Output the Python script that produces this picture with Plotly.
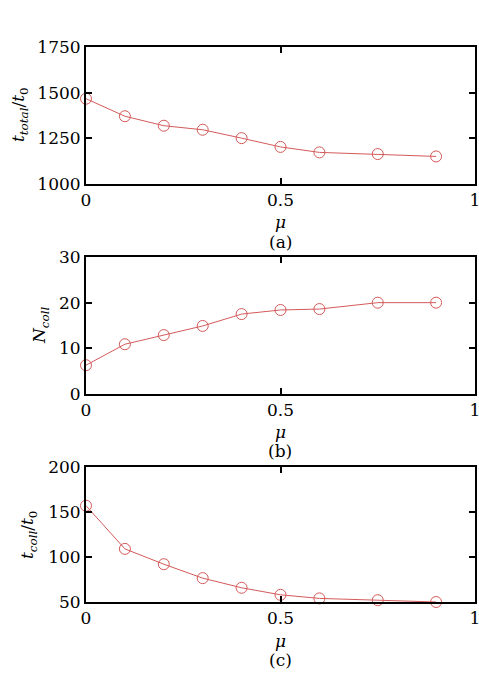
import plotly.graph_objects as go

# data
mu = [0, 0.1, 0.2, 0.3, 0.4, 0.5, 0.6, 0.75, 0.9]
t_total = [1467, 1371, 1319, 1297, 1251, 1203, 1173, 1164, 1151]
n_coll = [6.3, 10.9, 12.9, 14.9, 17.5, 18.4, 18.6, 20.0, 20.0]
t_coll = [157, 109, 92, 76.5, 65.8, 58, 54, 52, 50]

x_ticks = [0, 0.5, 1]
x_labels = ["0", "0.5", "1"]
ticks_a = [1000, 1250, 1500, 1750]
ticks_b = [0, 10, 20, 30]
ticks_c = [50, 100, 150, 200]

W, H = 479, 682
RED = "#d45a5a"
FONT = "DejaVu Serif"


def py(p):
    # window pixel row -> paper y
    return 1 - p / H


def px(p):
    return p / W


panels = [
    # y data, ticks, y range, (top, bottom) pixels, ylabel, ylabel pos, label
    (t_total, ticks_a, [1000, 1750], (47, 184),
     "<i>t</i><sub><i>total</i></sub>/<i>t</i><sub>0</sub>", (20, 115), "(a)", (222, 242)),
    (n_coll, ticks_b, [0, 30], (257, 394),
     "<i>N</i><sub><i>coll</i></sub>", (40, 326), "(b)", (432, 451)),
    (t_coll, ticks_c, [50, 200], (467, 602),
     "<i>t</i><sub><i>coll</i></sub>/<i>t</i><sub>0</sub>", (28, 535), "(c)", (641, 660)),
]

fig = go.Figure()
annotations = []
for i, (yv, yt, yr, (top, bot), ylab, (lx, ly), tag, (my, ty)) in enumerate(panels):
    n = "" if i == 0 else str(i + 1)
    fig.add_trace(
        go.Scatter(
            x=mu, y=yv, mode="lines+markers",
            line=dict(color=RED, width=1),
            marker=dict(symbol="circle-open", size=11, color=RED, line=dict(width=1)),
            xaxis="x" + n, yaxis="y" + n, showlegend=False, cliponaxis=False,
        )
    )
    axis_common = dict(
        showline=True, linecolor="black", linewidth=2, mirror="ticks",
        ticks="inside", ticklen=6, tickwidth=1.5, tickcolor="black",
        showgrid=False, zeroline=False, automargin=False,
        ticklabeloverflow="allow",
        tickfont=dict(family=FONT, size=17, color="black"),
    )
    fig.update_layout(**{
        "xaxis" + n: dict(axis_common, domain=[px(86), px(475)], range=[0, 1],
                          tickvals=x_ticks, ticktext=x_labels, anchor="y" + n),
        "yaxis" + n: dict(axis_common, domain=[py(bot), py(top)], range=yr,
                          tickvals=yt, anchor="x" + n),
    })
    annotations += [
        dict(text=ylab, x=px(lx), y=py(ly), textangle=-90, showarrow=False),
        dict(text="<i>μ</i>", x=px(280), y=py(my), showarrow=False),
        dict(text=tag, x=px(280), y=py(ty), showarrow=False),
    ]
for a in annotations:
    a.update(xref="paper", yref="paper", xanchor="center", yanchor="middle",
             font=dict(family=FONT, size=17, color="black"))

fig.update_layout(
    width=W, height=H, margin=dict(l=0, r=0, t=0, b=0),
    plot_bgcolor="white", paper_bgcolor="white",
    font=dict(family=FONT, size=17, color="black"),
    annotations=annotations,
)
# drop the default page margin so the figure sits at the window corner
fig.write_html("out.html", config={"displayModeBar": False},
               post_script="document.body.style.margin='0';")
